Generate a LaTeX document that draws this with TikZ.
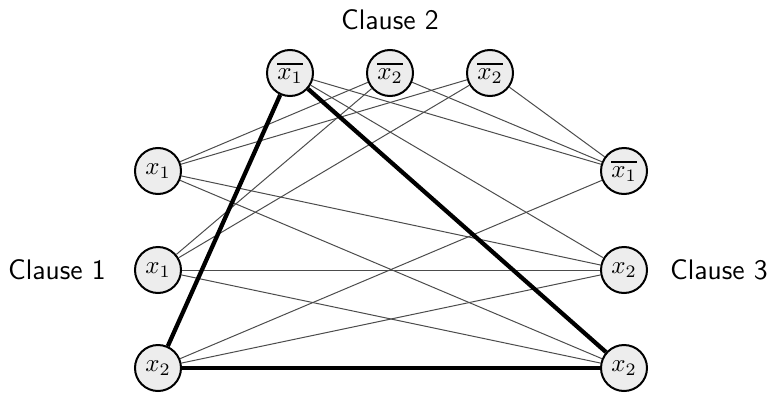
\documentclass[tikz,border=0pt]{standalone}
\newcommand{\negbar}[1]{\mathord{\vbox{\hrule height 1pt\kern 1.3pt\hbox{$#1$}}}}
\begin{document}
\begin{tikzpicture}[x=0.4pt,y=-0.4pt,
  lit/.style={circle,draw=black,line width=0.8pt,fill=black!7,minimum size=18.4pt,inner sep=0pt},
  thin/.style={draw=black!70,line width=0.4pt},
  thick/.style={draw=black,line width=1.7pt},
  lab/.style={font=\sffamily\fontsize{11.3}{13}\selectfont}]
\useasboundingbox (0,0) rectangle (772,393);
\node[lit] (T1) at (290,73) {$\negbar{x_1}$};
\node[lit] (T2) at (390,73) {$\negbar{x_2}$};
\node[lit] (T3) at (490,73) {$\negbar{x_2}$};
\node[lit] (L1) at (158,171) {$x_1$};
\node[lit] (L2) at (158,270) {$x_1$};
\node[lit] (L3) at (158,368) {$x_2$};
\node[lit] (R1) at (624,171) {$\negbar{x_1}$};
\node[lit] (R2) at (624,270) {$x_2$};
\node[lit] (R3) at (624,368) {$x_2$};
\node[lab] (C2) at (390,20) {Clause 2};
\node[lab] (C1) at (57,270) {Clause 1};
\node[lab] (C3) at (719,270) {Clause 3};
\foreach \a/\b in {L1/T2,L1/T3,L1/R2,L1/R3,L2/T2,L2/T3,L2/R2,L2/R3,L3/R1,L3/R2,T1/R1,T1/R2,T2/R1,T3/R1}
  \draw[thin] (\a) -- (\b);
\draw[thick] (T1) -- (L3);
\draw[thick] (T1) -- (R3);
\draw[thick] (L3) -- (R3);
\end{tikzpicture}
\end{document}
